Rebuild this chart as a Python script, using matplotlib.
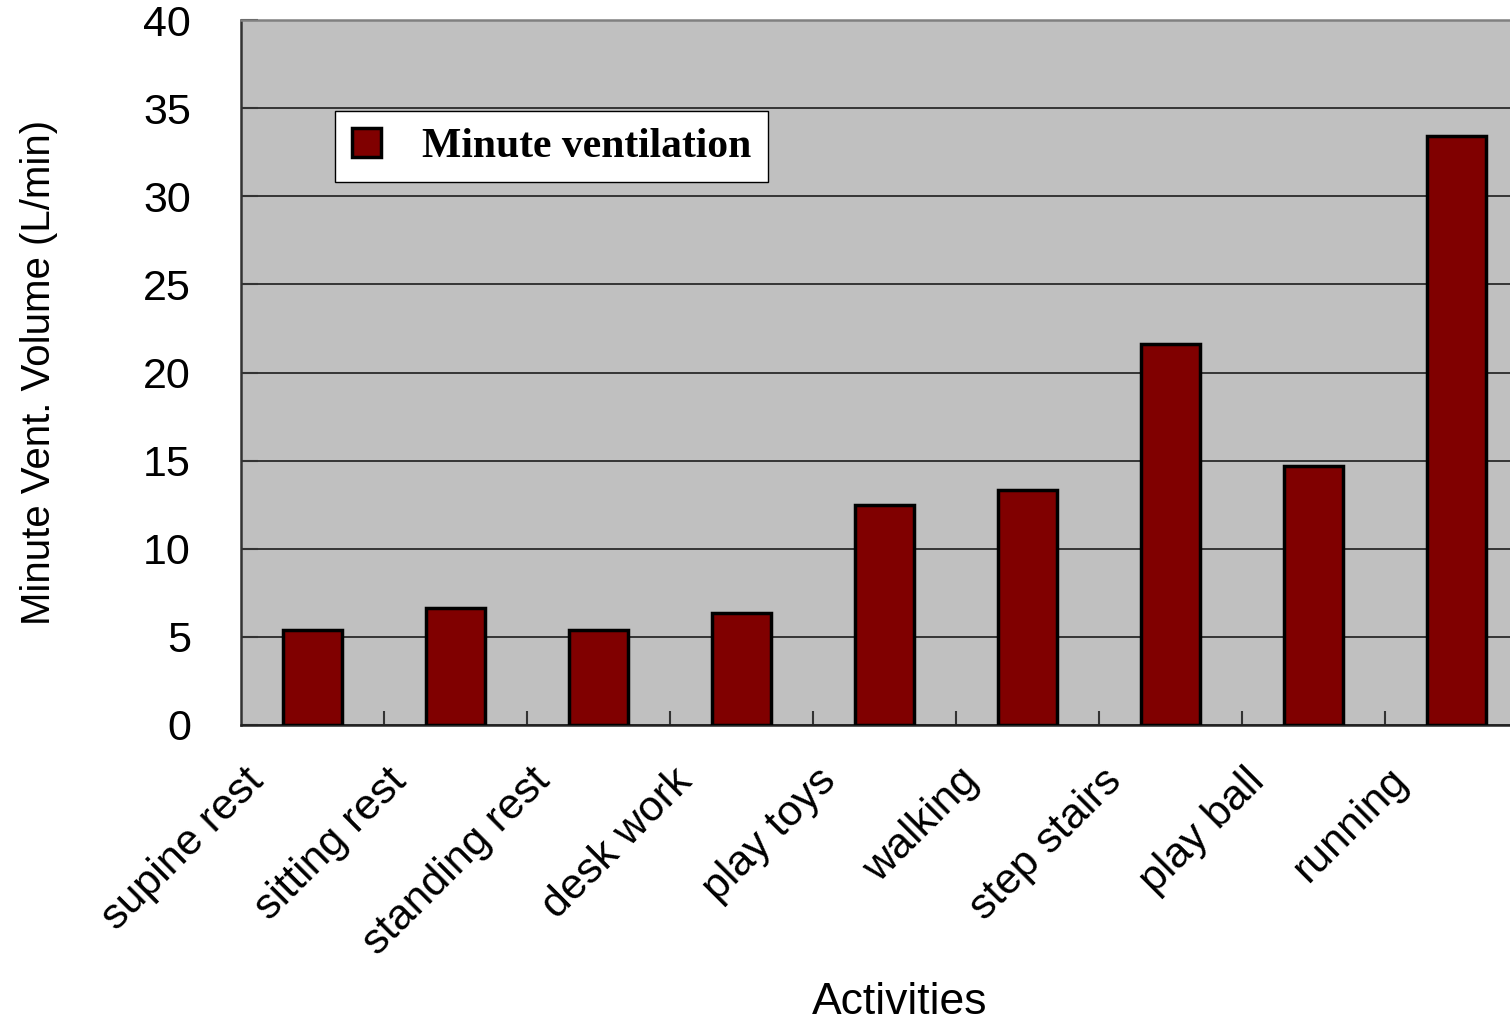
import matplotlib
matplotlib.use("Agg")
import numpy as np
from matplotlib import pyplot as plt
from matplotlib import transforms

activities = ["supine rest", "sitting rest", "standing rest", "desk work",
              "play toys", "walking", "step stairs", "play ball", "running"]
ventilation = [5.4, 6.65, 5.4, 6.35, 12.5, 13.35, 21.6, 14.7, 33.4]
y_ticks = [0, 5, 10, 15, 20, 25, 30, 35, 40]

plt.rcParams['font.family'] = ['Liberation Sans', 'DejaVu Sans']

fig = plt.figure(figsize=(15.1, 10.23), dpi=100)
ax = fig.add_axes([241 / 1510, 1 - 725 / 1023, (1528 - 241) / 1510, 705 / 1023])
ax.set_facecolor("#c0c0c0")

x = np.arange(len(activities))
ax.bar(x, ventilation, width=0.41, color="#800000", edgecolor="black",
       linewidth=2.5, label="Minute ventilation", zorder=3)

ax.set_xlim(-0.5, len(activities) - 0.5)
ax.set_ylim(0, 40)
ax.set_yticks(y_ticks)
ax.set_yticklabels([str(v) for v in y_ticks], fontsize=31)
ax.yaxis.grid(True, color="#2a2a2a", linewidth=1.3, zorder=1)
ax.set_axisbelow(True)

# category labels, slanted, with boundary ticks between categories
ax.set_xticks(x)
ax.set_xticklabels(activities, fontsize=31, rotation=45, ha="right",
                   va="center", rotation_mode="anchor")
ax.tick_params(axis="x", which="major", length=0, pad=36)
ax.set_xticks(np.arange(0.5, len(activities) - 0.5), minor=True)
ax.tick_params(axis="x", which="minor", direction="in", length=10,
               width=1.5, color="#333333")
shift = transforms.ScaledTranslation(-0.55, 0, fig.dpi_scale_trans)
for lbl in ax.get_xticklabels():
    lbl.set_transform(lbl.get_transform() + shift)

ax.tick_params(axis="y", direction="in", length=12, width=1.5,
               color="#333333", pad=36)

for side in ["top", "left", "bottom"]:
    ax.spines[side].set_linewidth(1.8)
ax.spines["top"].set_color("#808080")
ax.spines["left"].set_color("#333333")
ax.spines["bottom"].set_color("#222222")
ax.spines["right"].set_visible(False)

ax.set_ylabel("Minute Vent. Volume (L/min)", fontsize=29)
ax.yaxis.set_label_coords((58 - 241) / 1287, 0.5)
fig.text(900 / 1510, 1 - 1003 / 1023, "Activities", fontsize=32,
         ha="center", va="center")

leg = ax.legend(loc="upper left", bbox_to_anchor=(0.073, 0.871),
                prop={"family": ["Liberation Serif"], "weight": "bold", "size": 30},
                frameon=True, fancybox=False, framealpha=1,
                edgecolor="black", handlelength=0.7, handleheight=0.7,
                handletextpad=1.0, borderpad=0.4, borderaxespad=0)
leg.get_frame().set_linewidth(1.0)

fig.savefig("out.png", dpi=100)
